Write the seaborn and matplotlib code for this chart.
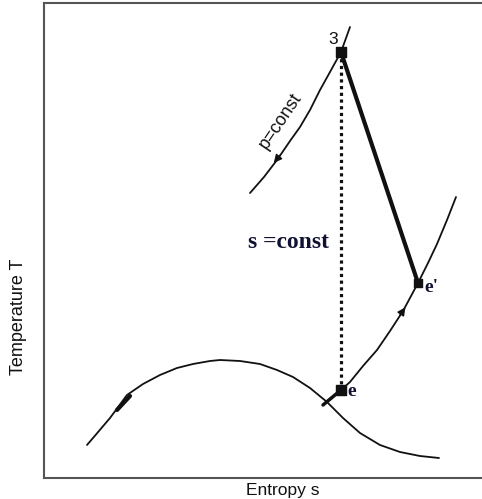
import matplotlib
matplotlib.use("Agg")
import matplotlib.pyplot as plt
import seaborn as sns

# saturation dome (entropy s, temperature T), arbitrary units
dome_s = [4.3, 4.9, 6.6, 8.3, 9.9, 11.6, 13.3, 14.9, 16.6, 17.6, 19.6, 21.6, 23.3,
          24.9, 26.6, 28.3, 29.9, 31.6, 33.6, 35.6, 37.6, 39.5]
dome_T = [3.3, 4.0, 6.0, 8.3, 9.4, 10.3, 11.0, 11.4, 11.7, 11.8, 11.7, 11.4, 10.8,
          10.1, 9.0, 7.6, 6.0, 4.5, 3.3, 2.6, 2.2, 2.0]

# curve through e and e'
ee_s = [29.7, 30.6, 31.9, 33.3, 34.6, 35.9, 37.4, 38.4, 39.3, 40.3, 41.2]
ee_T = [8.8, 9.6, 11.2, 12.8, 14.7, 16.7, 19.5, 21.5, 23.4, 25.8, 28.1]

# isobar p = const through state 3
iso_s = [30.6, 29.7, 28.6, 27.6, 26.6, 25.6, 24.6, 23.3, 22.0, 20.6]
iso_T = [45.1, 42.6, 40.6, 38.8, 36.8, 35.1, 33.7, 31.8, 30.1, 28.5]

# states
state_names = ["3", "e", "e'"]
state_s = [29.7, 29.7, 37.4]
state_T = [42.6, 8.8, 19.5]


def main():
    sns.set_theme(style="white")
    plt.rcParams["font.family"] = ["Liberation Sans", "DejaVu Sans"]

    fig = plt.figure(figsize=(4.82, 4.99), dpi=100)
    ax = fig.add_axes([44 / 482, 21 / 499, 438 / 482, 475 / 499])
    ax.set_xlim(0, 43.8)
    ax.set_ylim(0, 47.5)

    kw = dict(sort=False, estimator=None, color="#111111", ax=ax, legend=False)
    sns.lineplot(x=dome_s, y=dome_T, lw=1.3, **kw)
    sns.lineplot(x=ee_s, y=ee_T, lw=1.3, **kw)
    sns.lineplot(x=iso_s, y=iso_T, lw=1.3, **kw)

    # thick bits on the dome
    sns.lineplot(x=[7.3, 8.6], y=[6.8, 8.2], lw=3, **kw)
    sns.lineplot(x=[27.9, state_s[1]], y=[7.3, state_T[1]], lw=2.5, **kw)

    # 3 -> e' (real expansion) and 3 -> e (isentropic)
    sns.lineplot(x=[state_s[0], state_s[2]], y=[state_T[0], state_T[2]],
                 lw=3, **kw)
    ax.plot([state_s[0], state_s[1]], [state_T[0], state_T[1]], color="#111111",
            lw=2.3, linestyle=(0, (1, 1.1)), dash_capstyle="butt")

    ax.scatter(state_s, state_T, marker="s", s=[50, 55, 40], color="#111111",
               zorder=5)

    # arrows along curves
    ax.annotate("", xy=(22.8, 31.3), xytext=(23.8, 32.5),
                arrowprops=dict(arrowstyle="-|>", color="#111111", lw=1,
                                mutation_scale=12))
    ax.annotate("", xy=(36.3, 17.3), xytext=(35.4, 16.0),
                arrowprops=dict(arrowstyle="-|>", color="#111111", lw=1,
                                mutation_scale=12))

    # labels
    ax.text(28.9, 43.9, state_names[0], ha="center", va="center",
            fontsize=12.5, color="#111111")
    ax.text(30.3, 8.7, state_names[1], ha="left", va="center", fontsize=14,
            fontweight="bold", family="Liberation Serif", color="#111133")
    ax.text(38.0, 19.0, state_names[2], ha="left", va="center", fontsize=14,
            fontweight="bold", family="Liberation Serif", color="#111133")
    ax.text(24.4, 23.6, "s =const", ha="center", va="center", fontsize=17,
            fontweight="bold", family="Liberation Serif", color="#111133")
    ax.text(23.7, 35.7, "p=const", ha="center", va="center", fontsize=13,
            rotation=56, color="#111111")

    ax.set_xticks([])
    ax.set_yticks([])
    for side in ["left", "top", "bottom"]:
        ax.spines[side].set_color("#555555")
        ax.spines[side].set_linewidth(1.5)
    ax.spines["right"].set_visible(False)

    ax.set_xlabel("Entropy s", fontsize=12.5, color="#111111")
    ax.xaxis.set_label_coords(0.546, -0.01)
    ax.set_ylabel("Temperature T", fontsize=13, color="#111111")
    ax.yaxis.set_label_coords(-0.039, 0.339)

    fig.savefig("out.png", dpi=100)


if __name__ == "__main__":
    main()
